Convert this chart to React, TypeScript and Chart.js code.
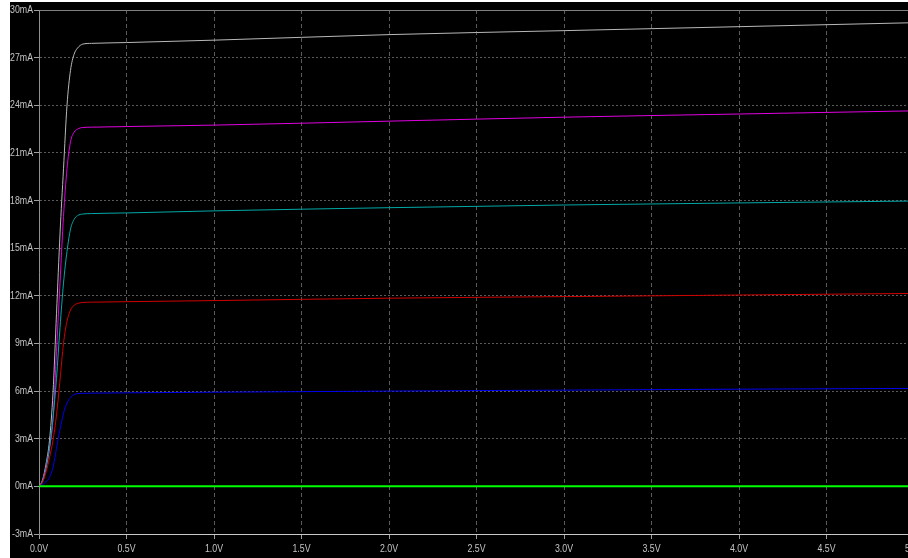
import React, { useEffect, useRef } from "react";
import { Chart, registerables } from "chart.js";

Chart.register(...registerables);

// Drain voltage samples (V)
const vds = [0, 0.02, 0.04, 0.06, 0.08, 0.1, 0.12, 0.14, 0.16, 0.18, 0.2, 0.22, 0.25, 0.3, 0.5, 1, 2, 3, 4, 5];

// Currents (mA) for each trace
const traceGreen = [0, 0, 0, 0, 0, 0, 0, 0, 0, 0, 0, 0, 0, 0, 0, 0, 0, 0, 0, 0];
const traceBlue = [0, 0.1, 0.3, 0.55, 1.2, 2.4, 3.6, 4.6, 5.25, 5.6, 5.78, 5.84, 5.86, 5.87, 5.89, 5.93, 6.0, 6.06, 6.12, 6.17];
const traceRed = [0, 0.25, 0.9, 1.8, 2.9, 4.5, 6.7, 9.0, 10.4, 11.1, 11.4, 11.52, 11.58, 11.6, 11.63, 11.7, 11.85, 11.95, 12.05, 12.15];
const traceCyan = [0, 0.3, 1.1, 2.4, 4.3, 6.8, 10.0, 12.8, 14.8, 16.2, 16.8, 17.05, 17.15, 17.18, 17.22, 17.35, 17.55, 17.72, 17.85, 17.97];
const traceMagenta = [0, 0.35, 1.2, 2.4, 4.2, 8.5, 12.8, 17.0, 20.0, 21.7, 22.3, 22.5, 22.6, 22.62, 22.66, 22.75, 23.0, 23.25, 23.45, 23.65];
const traceWhite = [0, 0.4, 1.4, 2.9, 5.9, 10.9, 15.9, 20.0, 24.0, 26.2, 27.2, 27.6, 27.85, 27.9, 27.95, 28.1, 28.45, 28.7, 28.95, 29.2];

// Axis ticks
const yMin = -3;
const yMax = 30;
const yStep = 3;
const xMin = 0;
const xMax = 5;
const xStep = 0.5;
const xLabel = (v: number) => v.toFixed(1) + "V";
const yLabel = (v: number) => Math.round(v) + "mA";

const FONT = "'Liberation Sans', Arial, sans-serif";
const LABEL_COLOR = "#c4c4c4";
const SQUEEZE = 0.8;

function toPoints(ys: number[]) {
  return vds.map((v, i) => ({ x: v, y: ys[i] }));
}

const narrowLabels = {
  id: "narrowLabels",
  afterDraw(chart: any) {
    const ctx = chart.ctx as CanvasRenderingContext2D;
    const xs = chart.scales.x;
    const ys = chart.scales.y;
    ctx.save();
    ctx.fillStyle = LABEL_COLOR;
    ctx.font = "11px " + FONT;
    ctx.textBaseline = "middle";
    // y labels
    ctx.textAlign = "right";
    for (const t of ys.ticks) {
      const py = ys.getPixelForValue(t.value);
      ctx.save();
      ctx.translate(ys.right - 6, py);
      ctx.scale(SQUEEZE, 1);
      ctx.fillText(yLabel(t.value), 0, 0);
      ctx.restore();
    }
    // x labels
    ctx.textAlign = "center";
    for (const t of xs.ticks) {
      const px = xs.getPixelForValue(t.value);
      ctx.save();
      ctx.translate(px, xs.top + 15);
      ctx.scale(SQUEEZE, 1);
      ctx.fillText(xLabel(t.value), 0, 0);
      ctx.restore();
    }
    ctx.restore();
  },
};

export default function App() {
  const ref = useRef<HTMLCanvasElement | null>(null);

  useEffect(() => {
    if (!ref.current) return;
    const mk = (data: number[], color: string, width = 1) => ({
      data: toPoints(data),
      borderColor: color,
      backgroundColor: color,
      borderWidth: width,
      pointRadius: 0,
      cubicInterpolationMode: "monotone" as const,
      fill: false,
    });
    const chart = new Chart(ref.current, {
      type: "line",
      data: {
        datasets: [
          mk(traceGreen, "#00ff00", 2),
          mk(traceBlue, "#0000ee"),
          mk(traceRed, "#d00000"),
          mk(traceCyan, "#00a8a8"),
          mk(traceMagenta, "#e000e0"),
          mk(traceWhite, "#b8b8b8"),
        ],
      },
      options: {
        responsive: false,
        animation: false,
        devicePixelRatio: 1,
        layout: { padding: { top: 8, right: 16, left: 0, bottom: 0 } },
        plugins: { legend: { display: false }, tooltip: { enabled: false }, title: { display: false } },
        scales: {
          x: {
            type: "linear",
            min: xMin,
            max: xMax,
            afterFit: (s: any) => {
              s.height = 24;
            },
            ticks: {
              stepSize: xStep,
              color: "rgba(0,0,0,0)",
              font: { family: FONT, size: 8 },
              padding: 2,
              maxRotation: 0,
              callback: (v: any) => xLabel(Number(v)),
            },
            grid: {
              color: "#5a5a5a",
              lineWidth: 1,
              tickColor: "#a0a0a0",
              tickLength: 5,
              tickBorderDash: [],
            },
            border: {
              display: true,
              color: "#c8c8c8",
              width: 1,
              dash: [4, 3],
            },
          },
          y: {
            type: "linear",
            min: yMin,
            max: yMax,
            afterFit: (s: any) => {
              s.width = 29;
            },
            ticks: {
              stepSize: yStep,
              color: "rgba(0,0,0,0)",
              font: { family: FONT, size: 8 },
              padding: 1,
              callback: (v: any) => yLabel(Number(v)),
            },
            grid: {
              color: (c: any) => (c.tick && c.tick.value === yMax ? "#808080" : "#5a5a5a"),
              lineWidth: 1,
              tickColor: "#a0a0a0",
              tickLength: 5,
              tickBorderDash: [],
            },
            border: {
              display: true,
              color: "#909090",
              width: 1,
              dash: (c: any) => (c.tick && c.tick.value === yMax ? [] : [2, 2]),
            },
          },
        },
      },
      plugins: [narrowLabels],
    } as any);
    return () => chart.destroy();
  }, []);

  return (
    <div
      style={{
        position: "fixed",
        left: 10,
        top: 2,
        width: 898,
        height: 556,
        overflow: "hidden",
        background: "#000",
      }}
    >
      <canvas ref={ref} width={920} height={556} style={{ display: "block" }} />
    </div>
  );
}
